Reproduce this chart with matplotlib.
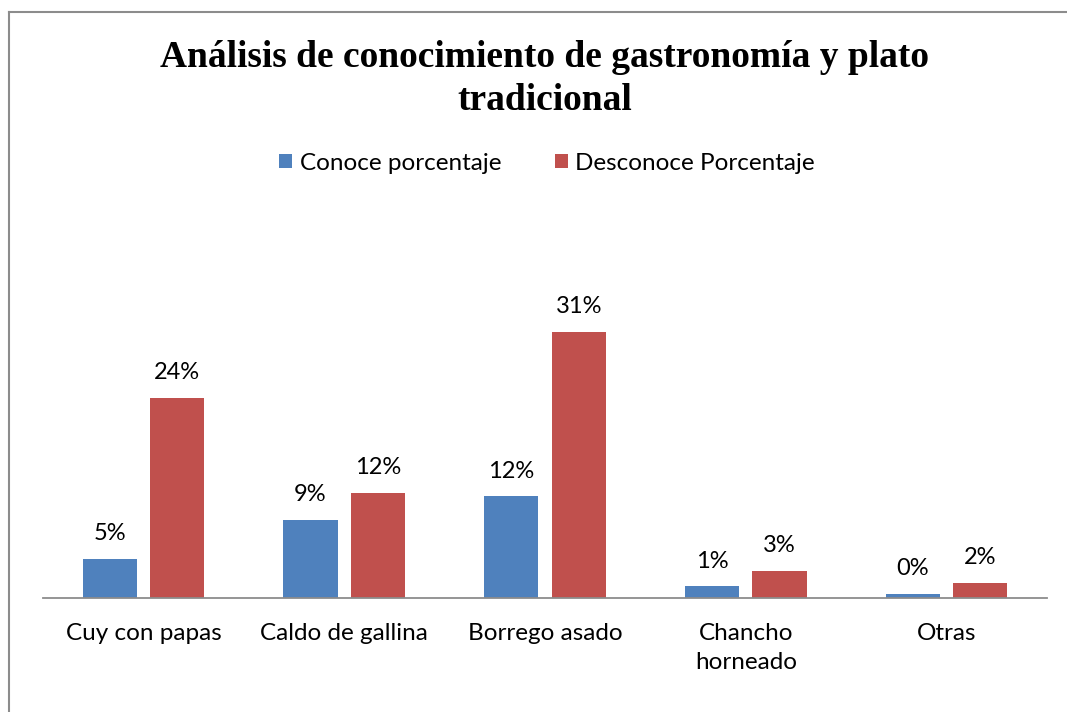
import matplotlib.pyplot as plt
from matplotlib.lines import Line2D

categories = ["Cuy con papas", "Caldo de gallina", "Borrego asado", "Chancho\nhorneado", "Otras"]
conoce = [4.63, 9.22, 11.97, 1.37, 0.47]
desconoce = [23.6, 12.4, 31.4, 3.2, 1.8]
series_names = ["Conoce porcentaje", "Desconoce Porcentaje"]

W, H = 1067, 712
fig = plt.figure(figsize=(W / 100, H / 100), dpi=100)

# outer chart border: only top and left edges show in the picture
border = dict(transform=fig.transFigure, color="#8c8c8c", linewidth=1.5)
fig.lines.append(Line2D([9 / W, 9 / W], [0, 1 - 12 / H], **border))
fig.lines.append(Line2D([9 / W, 1], [1 - 12 / H, 1 - 12 / H], **border))

ax = fig.add_axes([43 / W, (H - 598) / H, (1047 - 43) / W, 297 / H])
x = list(range(len(categories)))
bw = 0.27
b1 = ax.bar([i - 0.168 for i in x], conoce, bw, color="#4f81bd")
b2 = ax.bar([i + 0.168 for i in x], desconoce, bw, color="#c0504d")

for bars, vals in ((b1, conoce), (b2, desconoce)):
    for b, v in zip(bars, vals):
        ax.annotate(f"{v:.0f}%", (b.get_x() + b.get_width() / 2, v),
                    xytext=(0, 10.5), textcoords="offset points",
                    ha="center", va="bottom", fontsize=17, family="Lato")

ax.set_xlim(-0.5, len(categories) - 0.5)
ax.set_ylim(0, 35)
ax.set_yticks([])
ax.set_xticks(x)
ax.set_xticklabels(categories, fontsize=17.5, family="Lato", linespacing=1.45)
ax.tick_params(axis="x", length=0, pad=18)
for s in ("top", "right", "left"):
    ax.spines[s].set_visible(False)
ax.spines["bottom"].set_color("#8c8c8c")
ax.spines["bottom"].set_linewidth(1.3)

fig.text(545 / W, 1 - 79 / H, "Análisis de conocimiento de gastronomía y plato\ntradicional",
         ha="center", va="center", fontsize=27, fontweight="bold",
         family="Liberation Serif", linespacing=1.3)

fig.legend([b1, b2], series_names, loc="center", bbox_to_anchor=(547 / W, 1 - 163 / H),
           ncol=2, frameon=False, prop={"family": "Lato", "size": 17.5},
           handlelength=0.55, handleheight=0.55, handletextpad=0.3, columnspacing=2.2)

fig.savefig("out.png", dpi=100, facecolor="white")
